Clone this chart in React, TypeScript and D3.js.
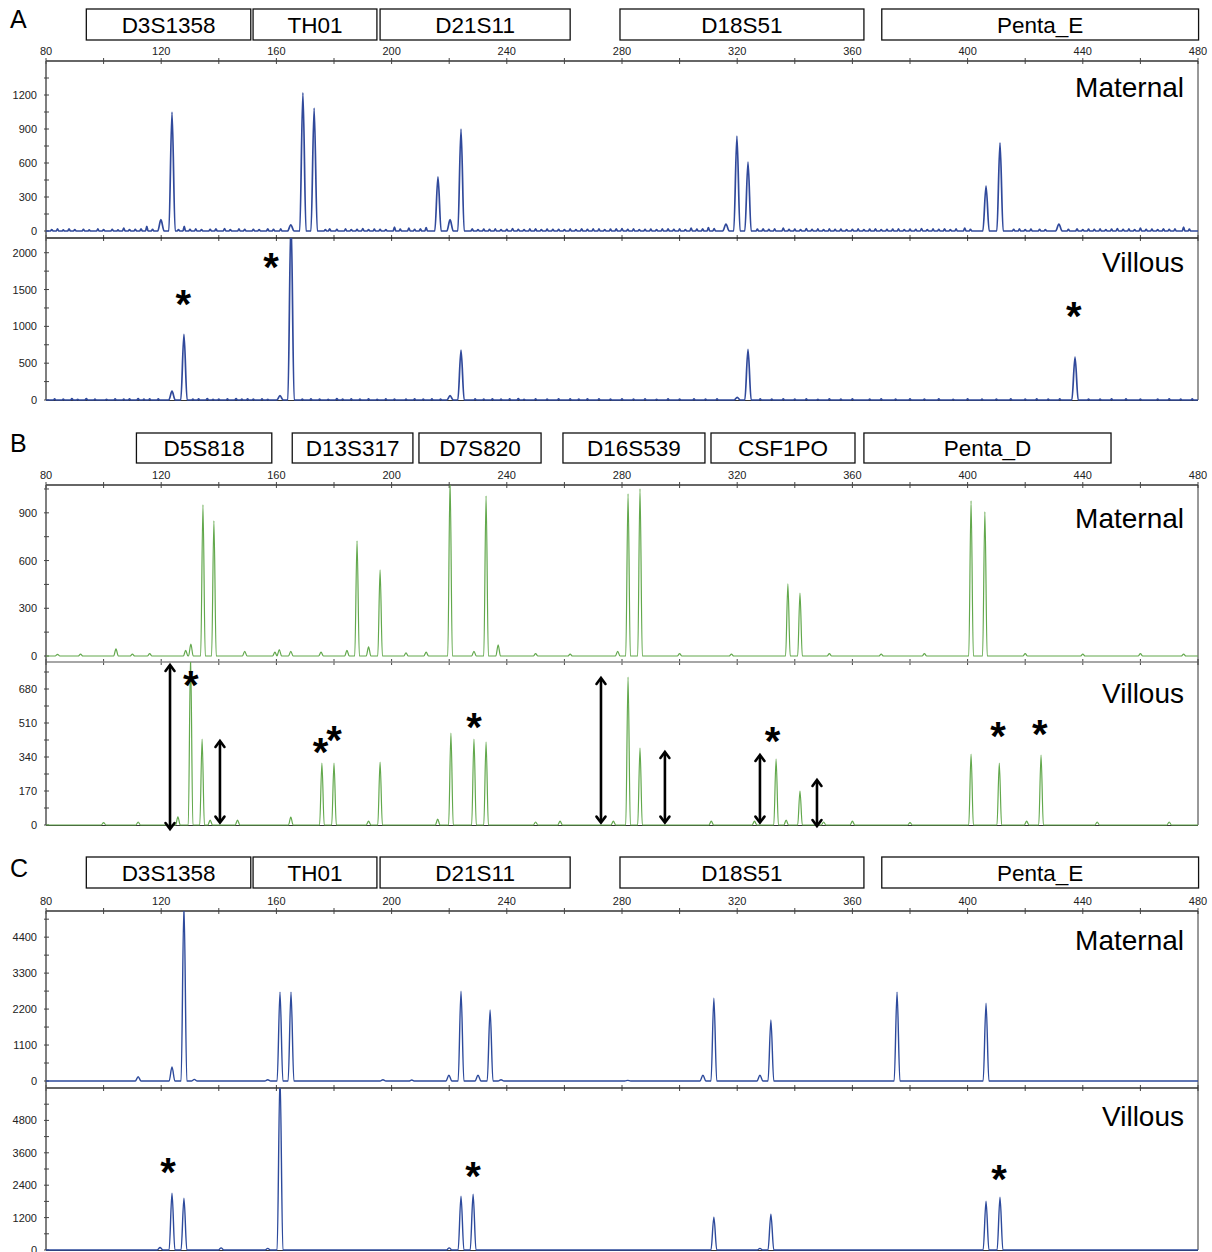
import React, { useEffect, useRef } from 'react';
import * as d3 from 'd3';

// size axis (bp)
const bpTicks = d3.range(80, 481, 20);
const bpLabels = [80, 120, 160, 200, 240, 280, 320, 360, 400, 440, 480];

// locus boxes [name, startBp, endBp]
const lociAC: [string, number, number][] = [
  ['D3S1358', 94, 151.1], ['TH01', 151.9, 194.9], ['D21S11', 196, 262],
  ['D18S51', 279.3, 364], ['Penta_E', 370.2, 480.2],
];
const lociB: [string, number, number][] = [
  ['D5S818', 111.4, 158.4], ['D13S317', 165.5, 207.4], ['D7S820', 209.5, 251.9],
  ['D16S539', 259.5, 308.8], ['CSF1PO', 310.9, 360.9], ['Penta_D', 364, 449.8],
];

// panel A (blue)
const aMatPeaks = [[119.9, 100], [123.75, 1050], [165, 55], [169.2, 1220], [173.1, 1085], [216.1, 477],
  [220.3, 100], [224.1, 900], [316.1, 60], [319.9, 838], [323.75, 609], [406.4, 397], [411.25, 777], [431.7, 60]];
const aMatNoise = [[82, 12], [84, 18], [86, 10], [88, 20], [90, 12], [93, 14], [95, 10], [98, 18], [100, 12],
  [103, 14], [105, 10], [107, 25], [109, 12], [111, 15], [113, 20], [115, 40], [117, 15], [126, 12], [128, 40],
  [130, 15], [132, 18], [134, 12], [137, 15], [139, 20], [142, 22], [144, 12], [147, 18], [149, 14], [152, 15],
  [154, 12], [157, 20], [159, 14], [161.5, 18], [177, 12], [178.5, 20], [181, 14], [184, 18], [186, 12], [188, 15],
  [190, 22], [192, 12], [194, 16], [196, 15], [198, 12], [201, 35], [203, 16], [206, 25], [208, 14], [210, 20],
  [212, 30], [228, 20], [230, 12], [232, 16], [234, 14], [236, 18], [238, 12], [240, 15], [242, 22], [244, 14],
  [246, 12], [248, 18], [250, 20], [252, 12], [254, 16], [256, 14], [258, 15], [260, 12], [262, 18], [264, 12],
  [266, 20], [268, 14], [270, 18], [272, 18], [274, 12], [276, 16], [278, 20], [280, 22], [282, 14], [284, 18],
  [286, 12], [288, 15], [290, 16], [292, 12], [294, 18], [296, 20], [298, 14], [300, 18], [302, 12], [304, 25],
  [306, 16], [308, 20], [310, 30], [312, 22], [327, 16], [329, 20], [331, 14], [333, 18], [336, 25], [338, 14],
  [340, 16], [342, 12], [344, 22], [346, 14], [348, 18], [350, 12], [352, 18], [354, 14], [356, 16], [358, 12],
  [360, 15], [362, 18], [364, 12], [366, 16], [368, 20], [370, 12], [372, 14], [374, 16], [376, 18], [378, 12],
  [380, 16], [382, 14], [384, 22], [386, 12], [388, 18], [390, 14], [392, 20], [394, 12], [396, 18], [399, 25],
  [401, 14], [416, 14], [418, 18], [420, 12], [422, 16], [425, 15], [427, 12], [435, 14], [438, 20], [440, 12],
  [442, 16], [444, 14], [446, 18], [448, 12], [450, 16], [452, 22], [454, 14], [456, 18], [458, 12], [460, 25],
  [462, 14], [464, 16], [466, 12], [468, 20], [470, 14], [472, 18], [475, 35], [477, 16]];
const aMatTicks = [0, 300, 600, 900, 1200];
const aVilPeaks = [[123.75, 120], [127.9, 892], [161.25, 60], [165.07, 2500], [220.3, 60], [224.1, 676],
  [320, 35], [323.75, 689], [437.3, 581]];
const aVilNoise = [[83, 14], [86, 12], [89, 18], [91, 10], [94, 20], [97, 12], [101, 10], [104, 16], [107, 12],
  [109, 15], [112, 18], [114, 12], [116, 14], [119, 16], [131, 12], [133, 15], [136, 18], [138, 10], [140, 12],
  [143, 14], [146, 18], [148, 12], [150, 16], [152, 12], [155, 14], [157, 10], [169, 12], [172, 16], [175, 12],
  [178, 10], [181, 18], [183, 12], [186, 15], [189, 12], [192, 16], [195, 10], [198, 14], [201, 12], [205, 12],
  [208, 16], [211, 12], [214, 15], [217, 12], [229, 14], [232, 12], [235, 16], [238, 12], [241, 14], [244, 18],
  [246, 10], [250, 14], [254, 12], [258, 16], [262, 15], [265, 12], [268, 16], [272, 14], [276, 12], [280, 16],
  [284, 12], [288, 14], [292, 10], [296, 16], [300, 12], [305, 15], [309, 12], [313, 14], [328, 14], [332, 12],
  [336, 16], [340, 12], [344, 14], [348, 10], [352, 16], [356, 12], [360, 14], [366, 12], [370, 16], [375, 12],
  [380, 15], [385, 12], [390, 16], [395, 10], [400, 14], [405, 12], [410, 12], [415, 16], [420, 12], [424, 15],
  [428, 12], [432, 14], [442, 12], [446, 12], [450, 16], [455, 15], [460, 12], [466, 12], [470, 16], [474, 12],
  [478, 15]];
const aVilTicks = [0, 500, 1000, 1500, 2000];
const aVilStars = [[127.7, 1351], [158.1, 1845], [436.9, 1176]];

// panel B (green)
const bMatPeaks = [[84, 10], [92, 12], [104.3, 45], [110, 12], [116, 15], [128.5, 35], [130.3, 75], [134.5, 950],
  [138.3, 850], [149, 30], [159.5, 25], [161, 40], [165, 30], [175.5, 25], [184.5, 35], [188, 724], [192, 57],
  [196, 541], [205, 20], [212, 25], [220.3, 1110], [228.6, 30], [232.8, 1007], [237, 70], [250, 15], [262, 12],
  [278.5, 30], [282.1, 1020], [286.25, 1051], [300, 15], [318, 12], [337.6, 453], [341.8, 396], [352, 15],
  [370, 12], [385, 15], [401.2, 975], [406, 906], [420, 15], [440, 12], [460, 15], [475, 12]];
const bMatTicks = [0, 300, 600, 900];
const bVilPeaks = [[100, 12], [112, 15], [125.8, 41], [130.2, 850], [134.2, 430], [137, 25], [146.5, 25], [165, 40],
  [175.8, 310], [180, 310], [192, 20], [196, 315], [216, 30], [220.6, 460], [228.6, 430], [232.8, 415], [250, 15],
  [258.5, 20], [277, 20], [282.1, 740], [286.25, 385], [311, 20], [326, 20], [333.5, 330], [337, 25], [341.8, 170],
  [350, 15], [360, 20], [380, 12], [401.2, 355], [411, 310], [420.5, 20], [425.5, 350], [445, 15], [470, 15]];
const bVilTicks = [0, 170, 340, 510, 680];
const bVilStars = [[130.3, 717], [175.3, 380], [180, 440], [228.6, 505], [332.3, 437], [410.6, 460], [425.1, 470]];
// double-headed arrows [bp, topValue, bottomValue]
const bVilArrows = [[123.06, 800, -20], [140.4, 420, 12], [272.7, 735, 12], [294.9, 365, 12], [327.9, 350, 12], [347.7, 225, -5]];

// panel C (blue)
const cMatPeaks = [[112, 130], [123.75, 430], [127.9, 5400], [131.5, 50], [157, 40], [161.25, 2720], [165.07, 2720],
  [197, 40], [207, 30], [219.9, 180], [224.1, 2750], [230, 180], [234.2, 2170], [238, 40], [282, 20], [308.1, 180],
  [311.9, 2536], [327.9, 180], [331.7, 1864], [375.5, 2720], [406.4, 2383]];
const cMatTicks = [0, 1100, 2200, 3300, 4400];
const cVilPeaks = [[119.6, 90], [123.75, 2105], [127.9, 1920], [140.8, 80], [157, 60], [161.25, 6500], [220, 80],
  [224.1, 1994], [228.3, 2068], [311.9, 1218], [327.9, 60], [331.7, 1330], [406.4, 1810], [411.25, 1957]];
const cVilTicks = [0, 1200, 2400, 3600, 4800];
const cVilStars = [[122.4, 2991], [228.3, 2843], [410.9, 2733]];

const FONT = 'Liberation Sans, Arial, sans-serif';
const X0 = 46, X1 = 1198;

const panels = [
  { letter: 'A', letterY: 28, boxTop: 9, boxH: 31, axisY: 61, matZero: 231, sep: 238, vilZero: 400,
    color: '#30499b', lw: 1.7, w: 1.1, nw: 0.45, loci: lociAC, sepColor: '#222', matDy: 36, vilDy: 34,
    mat: { peaks: aMatPeaks, noise: aMatNoise, max: 1500, ticks: aMatTicks, minor: 150, stars: [] as number[][] },
    vil: { peaks: aVilPeaks, noise: aVilNoise, max: 2200, ticks: aVilTicks, minor: 250, stars: aVilStars },
    arrows: [] as number[][] },
  { letter: 'B', letterY: 452, boxTop: 433, boxH: 30, axisY: 485, matZero: 656, sep: 662, vilZero: 825,
    color: '#62a84c', lw: 1.2, w: 0.8, nw: 0.5, loci: lociB, sepColor: '#888', matDy: 43, vilDy: 41,
    mat: { peaks: bMatPeaks, noise: [] as number[][], max: 1075, ticks: bMatTicks, minor: 150, stars: [] as number[][] },
    vil: { peaks: bVilPeaks, noise: [] as number[][], max: 815, ticks: bVilTicks, minor: 85, stars: bVilStars },
    arrows: bVilArrows },
  { letter: 'C', letterY: 877, boxTop: 857, boxH: 31, axisY: 911, matZero: 1081, sep: 1088, vilZero: 1250,
    color: '#2d4a9c', lw: 1.4, w: 1.0, nw: 0.5, loci: lociAC, sepColor: '#333', matDy: 39, vilDy: 38,
    mat: { peaks: cMatPeaks, noise: [] as number[][], max: 5200, ticks: cMatTicks, minor: 550, stars: [] as number[][] },
    vil: { peaks: cVilPeaks, noise: [] as number[][], max: 6000, ticks: cVilTicks, minor: 600, stars: cVilStars },
    arrows: [] as number[][] },
];

function tracePoints(peaks: number[][], noise: number[][], w: number, nw: number) {
  const pts = peaks.map(([p, h]) => ({ p, h, w })).concat(noise.map(([p, h]) => ({ p, h, w: nw })));
  pts.sort((a, b) => a.p - b.p);
  const out: number[][] = [[80, 0]];
  pts.forEach(d => {
    while (out.length > 1 && out[out.length - 1][1] === 0 && out[out.length - 1][0] > d.p - d.w) out.pop();
    if (d.p - d.w > out[out.length - 1][0]) out.push([d.p - d.w, 0]);
    out.push([d.p, d.h], [d.p + d.w, 0]);
  });
  out.push([480, 0]);
  return out;
}

const App = () => {
  const ref = useRef<SVGSVGElement>(null);

  useEffect(() => {
    const svg = d3.select(ref.current);
    svg.selectAll('*').remove();
    const x = d3.scaleLinear().domain([80, 480]).range([X0, X1]);

    panels.forEach((pn, pi) => {
      const g = svg.append('g');

      g.append('text').attr('x', 10).attr('y', pn.letterY).attr('font-size', 25)
        .attr('font-family', FONT).text(pn.letter);

      // locus boxes
      pn.loci.forEach(([name, s, e]) => {
        g.append('rect').attr('x', x(s)).attr('y', pn.boxTop).attr('width', x(e) - x(s)).attr('height', pn.boxH)
          .attr('fill', 'white').attr('stroke', '#111').attr('stroke-width', 1.3);
        g.append('text').attr('x', (x(s) + x(e)) / 2).attr('y', pn.boxTop + pn.boxH / 2 + 8)
          .attr('text-anchor', 'middle').attr('font-size', 22.5).attr('font-family', FONT).text(name);
      });

      // top axis
      g.append('line').attr('x1', X0).attr('x2', X1).attr('y1', pn.axisY).attr('y2', pn.axisY)
        .attr('stroke', '#333').attr('stroke-width', 1.3);
      bpTicks.forEach(t => {
        g.append('line').attr('x1', x(t)).attr('x2', x(t)).attr('y1', pn.axisY - 3).attr('y2', pn.axisY + 3)
          .attr('stroke', '#444');
        g.append('line').attr('x1', x(t)).attr('x2', x(t)).attr('y1', pn.sep - 3).attr('y2', pn.sep + 3)
          .attr('stroke', '#444');
      });
      bpLabels.forEach(t => {
        g.append('text').attr('x', x(t)).attr('y', pn.axisY - 6).attr('text-anchor', 'middle')
          .attr('font-size', 11).attr('font-family', FONT).attr('fill', '#222').text(t);
      });

      // frame
      g.append('line').attr('x1', X0).attr('x2', X1).attr('y1', pn.sep).attr('y2', pn.sep)
        .attr('stroke', pn.sepColor).attr('stroke-width', 1.6);
      g.append('line').attr('x1', X0).attr('x2', X0).attr('y1', pn.axisY).attr('y2', pn.vilZero)
        .attr('stroke', '#555').attr('stroke-width', 1.5);
      g.append('line').attr('x1', X1).attr('x2', X1).attr('y1', pn.axisY).attr('y2', pn.vilZero)
        .attr('stroke', '#333').attr('stroke-width', 1);
      g.append('line').attr('x1', X0).attr('x2', X1).attr('y1', pn.vilZero + 0.5).attr('y2', pn.vilZero + 0.5)
        .attr('stroke', '#333').attr('stroke-width', 1);

      const subs = [
        { d: pn.mat, top: pn.axisY, zero: pn.matZero, clipBottom: pn.sep, label: 'Maternal', dy: pn.matDy },
        { d: pn.vil, top: pn.sep, zero: pn.vilZero, clipBottom: pn.vilZero + 2, label: 'Villous', dy: pn.vilDy },
      ];
      subs.forEach((sb, si) => {
        const y = d3.scaleLinear().domain([0, sb.d.max]).range([sb.zero, sb.top]);
        d3.range(0, sb.d.max, sb.d.minor).forEach(v => {
          g.append('line').attr('x1', X0 - 2).attr('x2', X0 + 3).attr('y1', y(v)).attr('y2', y(v))
            .attr('stroke', '#444');
        });
        sb.d.ticks.forEach(v => {
          g.append('text').attr('x', 37).attr('y', y(v) + 4).attr('text-anchor', 'end')
            .attr('font-size', 11).attr('font-family', FONT).attr('fill', '#222').text(v);
        });

        const id = `clip${pi}${si}`;
        g.append('clipPath').attr('id', id).append('rect')
          .attr('x', X0).attr('y', sb.top).attr('width', X1 - X0).attr('height', sb.clipBottom - sb.top);
        const line = d3.line<number[]>().x(d => x(d[0])).y(d => y(d[1])).curve(d3.curveMonotoneX);
        g.append('path').datum(tracePoints(sb.d.peaks, sb.d.noise, pn.w, pn.nw))
          .attr('clip-path', `url(#${id})`).attr('fill', 'none').attr('stroke', pn.color)
          .attr('stroke-width', pn.lw).attr('stroke-linejoin', 'round').attr('d', line);

        g.append('text').attr('x', 1184).attr('y', sb.top + sb.dy).attr('text-anchor', 'end')
          .attr('font-size', 28).attr('font-family', FONT).text(sb.label);

        sb.d.stars.forEach(([p, v]) => {
          g.append('text').attr('x', x(p)).attr('y', y(v) + 17).attr('text-anchor', 'middle')
            .attr('font-size', 40).attr('font-weight', 'bold').attr('font-family', FONT).text('*');
        });

        if (si === 1) {
          pn.arrows.forEach(([p, t, b]) => {
            const ax = x(p), yt = y(t), yb = y(b);
            g.append('line').attr('x1', ax).attr('x2', ax).attr('y1', yt + 1).attr('y2', yb - 1)
              .attr('stroke', '#000').attr('stroke-width', 2.6);
            g.append('path').attr('d', `M${ax - 4.5},${yt + 6} L${ax},${yt} L${ax + 4.5},${yt + 6}`)
              .attr('fill', 'none').attr('stroke', '#000').attr('stroke-width', 2.6).attr('stroke-linecap', 'round');
            g.append('path').attr('d', `M${ax - 4.5},${yb - 6} L${ax},${yb} L${ax + 4.5},${yb - 6}`)
              .attr('fill', 'none').attr('stroke', '#000').attr('stroke-width', 2.6).attr('stroke-linecap', 'round');
          });
        }
      });
    });
  }, []);

  return (
    <svg ref={ref} width={1212} height={1252}
      style={{ position: 'absolute', left: 0, top: 0, background: 'white' }} />
  );
};

export default App;
